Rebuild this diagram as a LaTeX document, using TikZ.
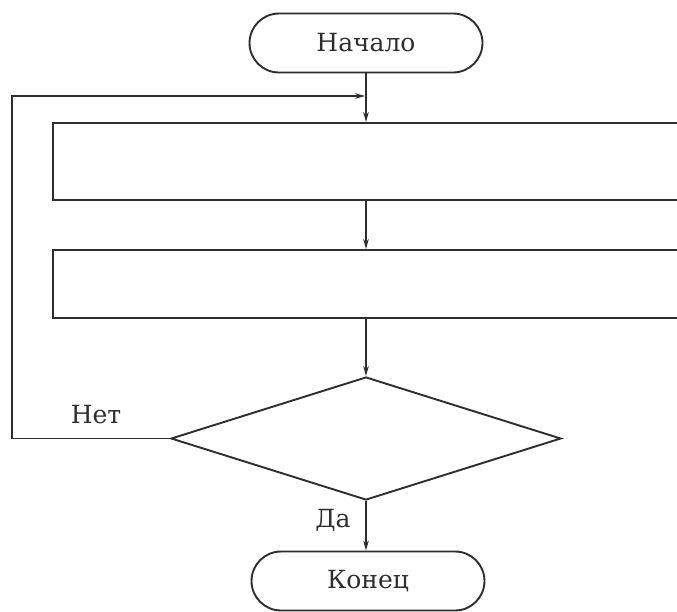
\documentclass[tikz,border=0pt]{standalone}
\usepackage{fontspec}
\setmainfont{DejaVu Serif}
\usetikzlibrary{shapes.geometric,shapes.misc,arrows.meta}
\definecolor{ink}{HTML}{2E2E2E}
\tikzset{
  ln/.style={draw=ink,line width=1.9pt},
  arr/.style={ln,-{Stealth[length=10pt,width=5.5pt]}},
  term/.style={ln,rounded rectangle,minimum width=233pt,minimum height=59pt,inner sep=0pt,font=\fontsize{25}{29}\selectfont,text=ink},
  blk/.style={ln,rectangle,minimum width=680pt,anchor=west,inner sep=0pt},
  cond/.style={ln,diamond,minimum width=390pt,minimum height=123pt,inner sep=0pt},
  lbl/.style={font=\fontsize{25}{29}\selectfont,text=ink,inner sep=0pt}
}
\begin{document}
\begin{tikzpicture}[x=1pt,y=-1pt]
\useasboundingbox (0,0) rectangle (677,611);
\clip (0,0) rectangle (677,611);
\fill[white] (0,0) rectangle (677,611);
\node[term] (s) at (366,43) {Начало};
\node[blk,minimum height=77pt] (r1) at (52,161.5) {};
\node[blk,minimum height=68pt] (r2) at (52,284) {};
\node[cond] (d) at (366,438.5) {};
\node[term] (e) at (368,581) {Конец};
\node[lbl] (no) at (96,415) {Нет};
\node[lbl] (yes) at (333,520) {Да};
\coordinate (j) at (s.south |- 0,96);
\coordinate (lc) at (12,0);
\draw[arr] (s.south) -- (s.south |- r1.north);
\draw[arr] (s.south |- r1.south) -- (s.south |- r2.north);
\draw[arr] (s.south |- r2.south) -- (d.north);
\draw[arr] (d.west) -- (d.west -| lc) -- (lc |- j) -- ([xshift=-0.95pt]j);
\draw[arr] (d.south) -- (d.south |- e.north);
\end{tikzpicture}
\end{document}
